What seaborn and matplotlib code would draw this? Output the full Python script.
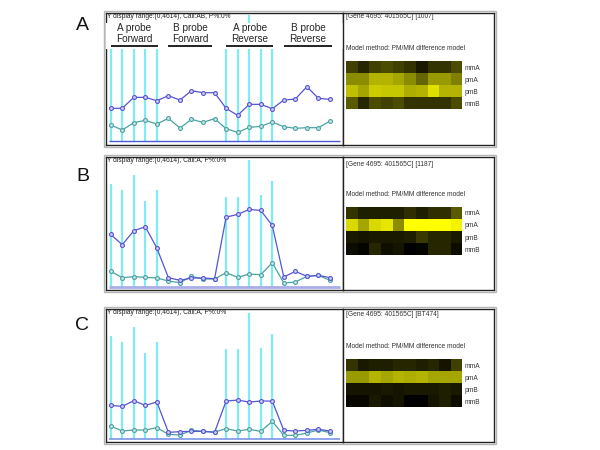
import matplotlib
matplotlib.use("Agg")
import matplotlib.pyplot as plt
import seaborn as sns
import numpy as np
from matplotlib.colors import LinearSegmentedColormap
from matplotlib.patches import Rectangle

# probe positions (20 probes) and the PM bars (A probes only)
probe_idx = list(range(20))
bar_idx = [0, 1, 2, 3, 4, 10, 11, 12, 13, 14]
group_labels = [("A probe", "Forward"), ("B probe", "Forward"),
                ("A probe", "Reverse"), ("B probe", "Reverse")]
group_spans = [(0, 4.1), (5, 8.8), (10, 14.1), (15, 19.2)]
heat_rows = ["mmA", "pmA", "pmB", "mmB"]

# panel A
a_title = "Y display range:(0,4614), Call:AB, P%:0%"
a_gene = "[Gene 4695: 401565C] [1007]"
a_upper = [1196, 1196, 1598, 1598, 1476, 1659, 1500, 1842, 1769, 1769,
           1196, 939, 1342, 1342, 1183, 1500, 1537, 1989, 1562, 1525]
a_lower = [586, 403, 671, 756, 622, 830, 476, 793, 683, 817,
           451, 317, 500, 537, 695, 525, 464, 488, 488, 732]
a_bars = [3800, 3600, 4100, 3500, 3600, 3500, 3500, 4614, 3600, 3900]
a_heat = [[0.25, 0.15, 0.25, 0.30, 0.25, 0.20, 0.10, 0.20, 0.20, 0.30],
          [0.55, 0.55, 0.70, 0.70, 0.65, 0.55, 0.40, 0.60, 0.60, 0.50],
          [0.75, 0.65, 0.80, 0.78, 0.78, 0.68, 0.70, 0.88, 0.70, 0.70],
          [0.35, 0.15, 0.30, 0.25, 0.30, 0.20, 0.20, 0.20, 0.20, 0.30]]

# panel B
b_title = "Y display range:(0,4614), Call:A, P%:0%"
b_gene = "[Gene 4695: 401565C] [1187]"
b_upper = [1918, 1542, 2052, 2197, 1420, 340, 243, 328, 328, 303,
           2549, 2647, 2829, 2792, 2246, 364, 571, 388, 425, 340]
b_lower = [571, 340, 376, 352, 328, 218, 158, 388, 291, 291,
           522, 352, 473, 449, 886, 146, 182, 388, 425, 243]
b_bars = [3763, 3545, 4103, 3132, 3521, 3278, 3278, 4614, 3351, 3861]
b_heat = [[0.20, 0.12, 0.12, 0.12, 0.12, 0.18, 0.12, 0.18, 0.18, 0.35],
          [0.85, 0.65, 0.85, 0.90, 0.55, 1.00, 1.00, 1.00, 1.00, 0.95],
          [0.10, 0.08, 0.10, 0.10, 0.10, 0.12, 0.22, 0.15, 0.15, 0.10],
          [0.05, 0.02, 0.15, 0.06, 0.08, 0.00, 0.02, 0.15, 0.15, 0.05]]

# panel C
c_title = "Y display range:(0,4614), Call:A, P%:0%"
c_gene = "[Gene 4695: 401565C] [BT474]"
c_upper = [1226, 1190, 1396, 1226, 1348, 243, 267, 279, 279, 243,
           1384, 1420, 1348, 1384, 1384, 316, 291, 316, 352, 291]
c_lower = [473, 291, 328, 328, 413, 170, 146, 316, 279, 255,
           376, 291, 352, 279, 643, 134, 134, 218, 328, 231]
c_bars = [3763, 3545, 4091, 3144, 3521, 3278, 3278, 4614, 3326, 3848]
c_heat = [[0.20, 0.10, 0.12, 0.12, 0.15, 0.15, 0.12, 0.15, 0.08, 0.25],
          [0.60, 0.60, 0.70, 0.65, 0.70, 0.68, 0.70, 0.65, 0.65, 0.65],
          [0.08, 0.08, 0.08, 0.10, 0.08, 0.10, 0.10, 0.10, 0.12, 0.10],
          [0.03, 0.03, 0.10, 0.06, 0.08, 0.00, 0.00, 0.08, 0.12, 0.05]]

W, H = 600, 450
FONT = "Liberation Sans"
BLUE = "#5555d4"
TEAL = "#4aa3a3"
CYAN = "#7eecf2"
yellow_map = LinearSegmentedColormap.from_list("yb", ["#000000", "#ffff00"])

sns.set_style("white")
plt.rcParams["font.family"] = [FONT, "DejaVu Sans"]

fig = plt.figure(figsize=(6, 4.5), dpi=100)


def px_axes(x0, y0, x1, y1):
    return fig.add_axes([x0 / W, 1 - y1 / H, (x1 - x0) / W, (y1 - y0) / H])


def frame(ax, color="#222222"):
    ax.set_xticks([])
    ax.set_yticks([])
    for s in ax.spines.values():
        s.set_visible(True)
        s.set_color(color)
        s.set_linewidth(1.0)


panels = [
    dict(letter="A", top=13, bottom=145, base=141, tall=15, title=a_title, gene=a_gene,
         upper=a_upper, lower=a_lower, bars=a_bars, heat=a_heat, letter_y=25.5,
         gene_y=17, model_y=49, heat_top=61, labels=True, base_col="#4a5ad8", base_lw=1.0),
    dict(letter="B", top=157, bottom=290, base=287, tall=160.5, title=b_title, gene=b_gene,
         upper=b_upper, lower=b_lower, bars=b_bars, heat=b_heat, letter_y=176,
         gene_y=165, model_y=195, heat_top=207, labels=False, base_col="#a9aee8", base_lw=2.0),
    dict(letter="C", top=309, bottom=442, base=439, tall=312.5, title=c_title, gene=c_gene,
         upper=c_upper, lower=c_lower, bars=c_bars, heat=c_heat, letter_y=325,
         gene_y=315, model_y=347, heat_top=359, labels=False, base_col="#7b93e6", base_lw=1.2),
]

PX = 4614 / 126.5   # data units per pixel
STEP = 11.54        # pixels between probes
X0 = 110.7          # pixel of first probe

for p in panels:
    top, bottom = p["top"], p["bottom"]

    # outer grey frame around the whole panel
    fig.patches.append(Rectangle((104 / W, 1 - (bottom + 2) / H), (496 - 104) / W,
                                 (bottom - top + 4) / H, transform=fig.transFigure,
                                 fill=False, edgecolor="#b5b5b5", lw=1.0))

    # left: probe intensity plot
    ax = px_axes(106, top, 343, bottom)
    ax.vlines(bar_idx, 0, p["bars"], color=CYAN, lw=1.6, zorder=1)
    ax.hlines(0, (109 - X0) / STEP, (340 - X0) / STEP, color=p["base_col"], lw=p["base_lw"], zorder=2)
    sns.lineplot(x=probe_idx, y=p["lower"], ax=ax, color=TEAL, lw=0.9, marker="o",
                 markersize=2.8, markerfacecolor="#c6e6e6", markeredgecolor=TEAL,
                 markeredgewidth=0.8, zorder=4)
    sns.lineplot(x=probe_idx, y=p["upper"], ax=ax, color=BLUE, lw=0.9, marker="o",
                 markersize=2.8, markerfacecolor="#cfcff4", markeredgecolor=BLUE,
                 markeredgewidth=0.8, zorder=5)
    ax.set_xlim(-(X0 - 106) / STEP, 19 + (343 - X0 - 19 * STEP) / STEP)
    ax.set_ylim(-(bottom - p["base"]) * PX, 4614 + (p["tall"] - top) * PX)
    frame(ax)
    ax.set_xlabel("")
    ax.set_ylabel("")
    ax.text(0.005, 1 - 3.5 / (bottom - top), p["title"], transform=ax.transAxes,
            fontsize=4.8, va="center", ha="left", color="#222222")

    if p["labels"]:
        h = bottom - top
        ax.add_patch(Rectangle((0, (bottom - 49) / h), 1, 26 / h, transform=ax.transAxes,
                               facecolor="white", edgecolor="none", zorder=6))
        trans = ax.get_xaxis_transform()
        for (l1, l2), (s0, s1) in zip(group_labels, group_spans):
            cx = (s0 + s1) / 2
            ax.text(cx, (bottom - 28) / h, l1, transform=trans, ha="center", va="center",
                    fontsize=7.2, zorder=7)
            ax.text(cx, (bottom - 39) / h, l2, transform=trans, ha="center", va="center",
                    fontsize=7.2, zorder=7)
            ax.plot([s0, s1], [(bottom - 46) / h] * 2, transform=trans, color="#111111",
                    lw=1.3, zorder=7, solid_capstyle="butt")

    # right: model heatmap box
    rx = px_axes(343, top, 494, bottom)
    frame(rx)
    fig.text(346 / W, 1 - p["gene_y"] / H, p["gene"], fontsize=4.8, va="center", ha="left",
             color="#333333")
    fig.text(346 / W, 1 - p["model_y"] / H, "Model method: PM/MM difference model",
             fontsize=4.8, va="center", ha="left", color="#333333")
    hx = px_axes(346, p["heat_top"], 462.5, p["heat_top"] + 48)
    sns.heatmap(np.array(p["heat"]), ax=hx, cmap=yellow_map, vmin=0, vmax=1, cbar=False,
                xticklabels=False, yticklabels=heat_rows, linewidths=0)
    hx.yaxis.tick_right()
    hx.tick_params(axis="y", length=0, labelsize=4.8, pad=1.5, labelcolor="#333333")
    for t in hx.get_yticklabels():
        t.set_rotation(0)

    # panel letter
    fig.text(82.5 / W, 1 - p["letter_y"] / H, p["letter"], fontsize=14, ha="center",
             va="center", color="#111111")

fig.savefig("out.png", dpi=100, facecolor="white")
